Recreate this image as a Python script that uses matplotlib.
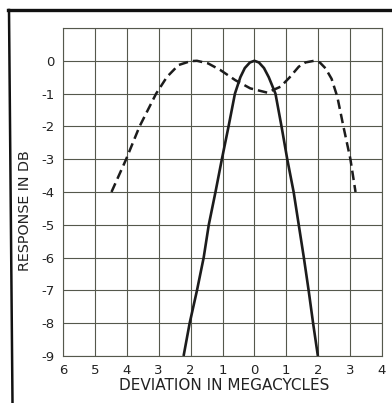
import matplotlib
matplotlib.use("Agg")
import matplotlib.pyplot as plt
from matplotlib.lines import Line2D

# Data (deviation in Mc, negative = left side)
dashed_x = [-4.48, -4.02, -3.6, -3.08, -2.74, -2.38, -2.0, -1.8, -1.45, -1.07,
            -0.6, -0.13, 0.4, 0.82, 1.1, 1.39, 1.6, 1.87, 2.05, 2.23, 2.42,
            2.6, 2.79, 3.01, 3.17]
dashed_y = [-4.0, -3.0, -2.0, -1.0, -0.49, -0.13, -0.01, 0.0, -0.08, -0.28,
            -0.59, -0.84, -0.97, -0.79, -0.51, -0.18, -0.05, 0.0, -0.05, -0.23,
            -0.55, -1.1, -2.0, -3.0, -4.0]

solid_x = [-2.22, -2.03, -1.8, -1.59, -1.43, -1.22, -1.02, -0.81, -0.61, -0.44,
           -0.3, -0.14, 0.0, 0.14, 0.3, 0.45, 0.66, 0.85, 1.03, 1.23, 1.39,
           1.55, 1.7, 1.84, 1.99]
solid_y = [-9.0, -8.0, -7.0, -6.0, -5.0, -4.0, -3.0, -2.0, -1.0, -0.5,
           -0.22, -0.05, 0.0, -0.05, -0.22, -0.5, -1.0, -2.0, -3.0, -4.0, -5.0,
           -6.0, -7.0, -8.0, -9.0]

x_ticks = [-6, -5, -4, -3, -2, -1, 0, 1, 2, 3, 4]
x_tick_labels = ["6", "5", "4", "3", "2", "1", "0", "1", "2", "3", "4"]
y_ticks = [0, -1, -2, -3, -4, -5, -6, -7, -8, -9]
y_tick_labels = ["0", "-1", "-2", "-3", "-4", "-5", "-6", "-7", "-8", "-9"]

W, H = 392, 403
fig = plt.figure(figsize=(W / 100, H / 100), dpi=100)
fig.patch.set_facecolor("white")

ax = fig.add_axes([63 / W, 1 - 356 / H, (382 - 63) / W, (356 - 28) / H])
ax.set_xlim(-6, 4)
ax.set_ylim(-9, 1)

gridc = "#55584c"
for v in range(-6, 5):
    ax.axvline(v, color=gridc, lw=0.8, zorder=1)
for v in range(-9, 2):
    ax.axhline(v, color=gridc, lw=0.8, zorder=1)
for s in ax.spines.values():
    s.set_color(gridc)
    s.set_linewidth(0.8)

ax.plot(solid_x, solid_y, color="#1c1c1c", lw=1.9, solid_capstyle="butt",
        solid_joinstyle="round", zorder=3)
ax.plot(dashed_x, dashed_y, color="#1c1c1c", lw=1.8,
        linestyle=(0, (3.8, 2.0)), dash_capstyle="butt", zorder=3)

ax.set_xticks(x_ticks)
ax.set_xticklabels(x_tick_labels)
ax.set_yticks(y_ticks)
ax.set_yticklabels(y_tick_labels)
ax.tick_params(axis="both", length=0, labelsize=9.5, colors="#222222")
ax.tick_params(axis="x", pad=6)
ax.tick_params(axis="y", pad=6)

fig.text(224 / W, 1 - 386 / H, "DEVIATION IN MEGACYCLES", ha="center",
         va="center", fontsize=11, color="#222222")
fig.text(25 / W, 1 - 211 / H, "RESPONSE IN DB", ha="center", va="center",
         rotation=90, fontsize=10.3, color="#222222")

# outer frame (top and left borders of the printed figure)
fig.add_artist(Line2D([8 / W, 1.0], [1 - 10 / H, 1 - 10 / H],
                      transform=fig.transFigure, color="#111111", lw=2.4))
fig.add_artist(Line2D([9 / W, 12.5 / W], [1 - 10 / H, 0.0],
                      transform=fig.transFigure, color="#111111", lw=1.8))

fig.savefig("out.png", dpi=100, facecolor="white")
